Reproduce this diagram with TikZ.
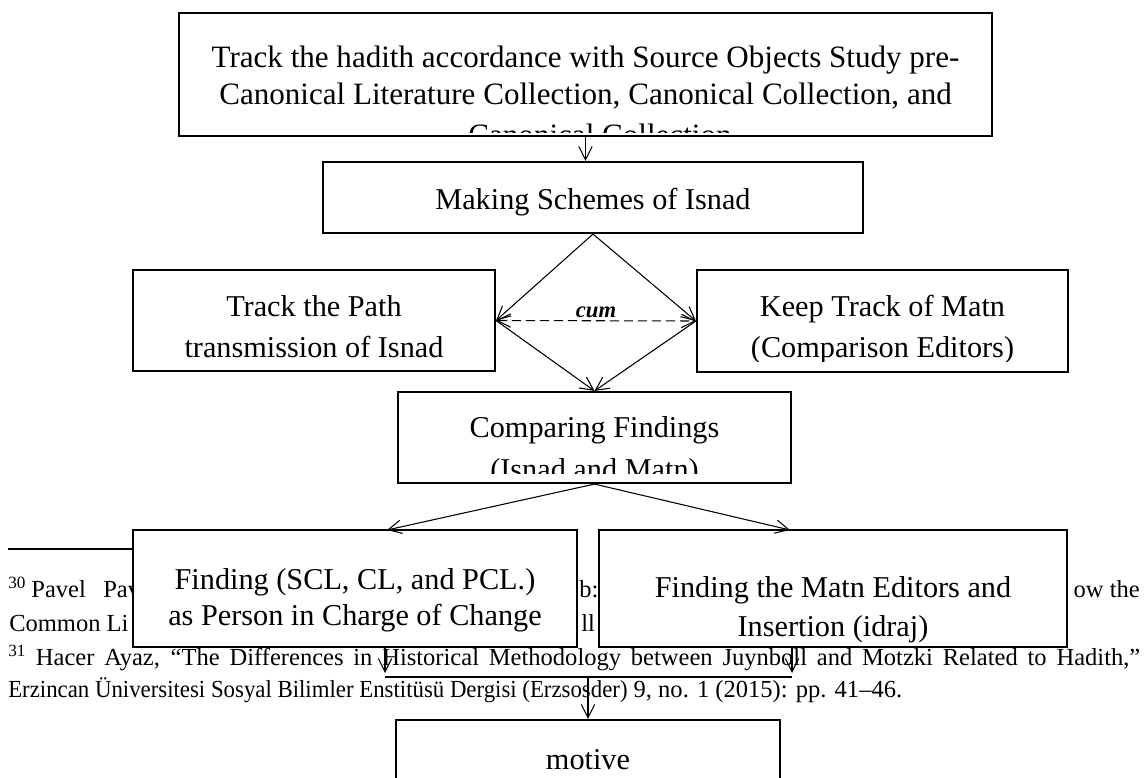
\documentclass[tikz,border=0pt]{standalone}
\usepackage{fontspec}
\setmainfont{Liberation Serif}
\usepackage{graphicx}
\usetikzlibrary{arrows.meta,fit}
\tikzset{
  box/.style={draw, line width=1.6pt, fill=white, inner sep=0pt},
  bt/.style={font=\fontsize{22.7}{26}\selectfont, inner sep=0pt, anchor=base},
  btt/.style={font=\fontsize{23.3}{26}\selectfont, inner sep=0pt, anchor=base},
  fn/.style={font=\fontsize{18.4}{22}\selectfont, inner sep=0pt, anchor=base west},
  cumlab/.style={font=\fontsize{17}{18}\selectfont\bfseries\itshape, inner sep=0pt, anchor=base},
  conn/.style={line width=0.8pt, -{Straight Barb[length=10pt,width=10pt,line width=0.8pt]}},
  biconn/.style={line width=0.8pt, dash pattern=on 7pt off 3.5pt, {Straight Barb[length=10pt,width=10pt,line width=0.8pt]}-{Straight Barb[length=10pt,width=10pt,line width=0.8pt]}},
  plainline/.style={line width=0.8pt},
}
\begin{document}
\begin{tikzpicture}[x=0.75pt,y=-0.75pt]
\useasboundingbox[fill=white] (0,0) rectangle (1146,778);
\clip (0,0) rectangle (1146,778);

% footnote area
\draw[line width=0.9pt] (8,549) -- (140,549);
\node[fn] (f1a) at (8,597) {\textsuperscript{30}\hspace{4pt}Pavel};
\node[fn] (f1b) at (103,597) {Pav};
\node[fn] (f1c) at (579,597) {b:};
\node[fn, anchor=base east] (f1d) at (1140,597) {ow the};
\node[fn] (f2a) at (9,631) {Common Li};
\node[fn] (f2b) at (581,631) {ll};
\node[fn] (f3) at (8,665) {\hbox to 849pt{\textsuperscript{31} Hacer Ayaz, “The Differences in Historical Methodology between Juynboll and Motzki Related to Hadith,”}};
\node[fn] (f4) at (8,697) {\scalebox{0.93}[1]{Erzincan Üniversitesi Sosyal Bilimler Enstitüsü Dergisi (Erzsosder)} 9, no. 1 (2015): pp. 41–46.};

% boxes
\node[box, fit={(179,13)(992,136)}] (b1) {};
\node[box, fit={(323,162)(863,233)}] (b2) {};
\node[box, fit={(133,270)(495,371)}] (l2) {};
\node[box, fit={(697,270)(1068,372)}] (r2) {};
\node[box, fit={(398,392)(791,483)}] (cmp) {};
\node[box, fit={(133,530)(577,647)}] (bl) {};
\node[box, fit={(599,530)(1067,647)}] (br) {};
\node[box, fit={(396,720)(780,800)}] (mot) {};

% box texts
\begin{scope}
\clip (179,13) rectangle (992,132);
\node[btt] (t1a) at (585.5,67) {Track the hadith accordance with Source Objects Study pre-};
\node[btt] (t1b) at (585.5,104) {Canonical Literature Collection, Canonical Collection, and};
\node[btt] (t1c) at (600,145) {Canonical Collection};
\end{scope}
\node[bt] (t2) at (593,209) {Making Schemes of Isnad};
\node[bt] (tl2a) at (314,316) {Track the Path};
\node[bt] (tl2b) at (314,357) {transmission of Isnad};
\begin{scope}
\clip (697,270) rectangle (1068,361);
\node[bt] (tr2a) at (882.5,316) {Keep Track of Matn};
\node[bt] (tr2b) at (882.5,357) {(Comparison Editors)};
\end{scope}
\begin{scope}
\clip (398,392) rectangle (791,473);
\node[bt] (tc1) at (594.5,437) {Comparing Findings};
\node[bt] (tc2) at (594.5,479) {(Isnad and Matn)};
\end{scope}
\node[bt] (tbl1) at (355,589) {Finding (SCL, CL, and PCL.)};
\node[bt] (tbl2) at (355,625) {as Person in Charge of Change};
\node[bt] (tbr1) at (833,597) {Finding the Matn Editors and};
\node[bt] (tbr2) at (833,636) {Insertion (idraj)};
\node[bt] (tm) at (588,769) {motive};

% connectors
\draw[conn] (b1.south) -- (b1.south |- b2.north);
\draw[conn] (b2.south) -- (l2.east);
\draw[conn] (b2.south) -- (r2.west);
\draw[conn] (l2.east) -- (cmp.north);
\draw[conn] (r2.west) -- (cmp.north);
\draw[biconn] (l2.east) -- (r2.west);
\node[cumlab] (cum) at (596,317) {cum};

\coordinate (ca) at (387,530);
\coordinate (cb) at (790,530);
\draw[conn] (cmp.south) -- (ca);
\draw[conn] (cmp.south) -- (cb);
\coordinate (bla) at (385,647);
\coordinate (blb) at (385,673);
\coordinate (bra) at (792,647);
\coordinate (brb) at (792,673);
\draw[conn] (bla) -- (blb);
\draw[conn] (bra) -- (brb);
\coordinate (jl) at (385,677);
\coordinate (jr) at (792,677);
\coordinate (jm) at (588,677);
\draw[plainline] (jl) -- (jr);
\draw[conn] (jm) -- (mot.north);
\end{tikzpicture}
\end{document}
